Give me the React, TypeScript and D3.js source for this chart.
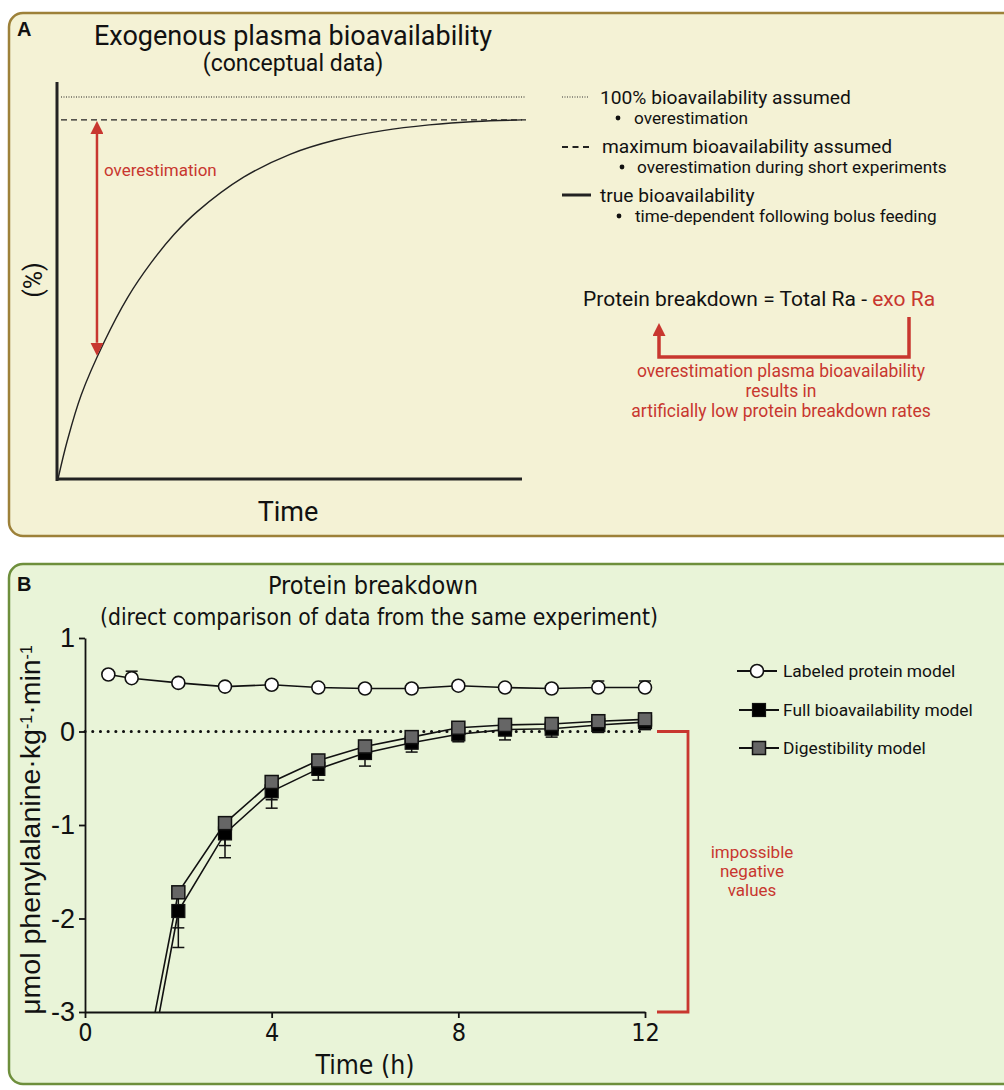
import React, { useEffect, useRef } from 'react';
import * as d3 from 'd3';

// ---- panel A (conceptual) ----
const conceptTime = [0, 2, 5, 10, 15, 20, 25, 30, 40, 50, 60, 70, 80, 90, 100];
const conceptTrue = [0, 10, 22, 36, 47.5, 56.5, 64, 70, 79, 85, 88.8, 91.2, 92.7, 93.6, 94];
const fullAssumed = 100;
const maxAssumed = 94;
const arrowTime = 8.4;
const arrowLow = 32;

// ---- panel B (protein breakdown) ----
const labeledTime = [0.5, 1, 2, 3, 4, 5, 6, 7, 8, 9, 10, 11, 12];
const labeledMean = [0.61, 0.57, 0.52, 0.48, 0.5, 0.47, 0.46, 0.46, 0.49, 0.47, 0.46, 0.47, 0.47];
const labeledSE = [0.02, 0.075, 0.03, 0.03, 0.03, 0.03, 0.03, 0.03, 0.03, 0.03, 0.03, 0.07, 0.07];

const modelTime = [1, 2, 3, 4, 5, 6, 7, 8, 9, 10, 11, 12];
const fullMean = [-4.6, -1.92, -1.09, -0.64, -0.4, -0.23, -0.12, -0.03, 0.02, 0.03, 0.07, 0.1];
const fullSE = [0.5, 0.39, 0.26, 0.18, 0.12, 0.14, 0.1, 0.08, 0.11, 0.09, 0.08, 0.08];
const digestMean = [-4.3, -1.72, -0.98, -0.54, -0.31, -0.16, -0.06, 0.04, 0.07, 0.08, 0.11, 0.13];
const digestSE = [0.5, 0.38, 0.24, 0.19, 0.1, 0.13, 0.08, 0.07, 0.08, 0.07, 0.06, 0.06];

const yTicksB = [1, 0, -1, -2, -3];
const xTicksB = [0, 4, 8, 12];

const RED = '#c8372f';
const ROBOTO = 'Roboto, "Noto Sans", sans-serif';
const NARROW = '"Liberation Sans Narrow", "DejaVu Sans Condensed", "Arial Narrow", sans-serif';
const ARIAL = '"Liberation Sans", Arial, sans-serif';

export default function App() {
  const xAxisRef = useRef<SVGGElement>(null);
  const yAxisRef = useRef<SVGGElement>(null);

  // panel A scales
  const xA = d3.scaleLinear().domain([0, 100]).range([58, 522]);
  const yA = d3.scaleLinear().domain([0, 100]).range([479, 97]);
  const curveA = d3.line<number>()
    .x((d, i) => xA(conceptTime[i]))
    .y(d => yA(d))
    .curve(d3.curveCatmullRom.alpha(0.5));

  // panel B scales
  const xB = d3.scaleLinear().domain([0, 12]).range([85, 645]);
  const yB = d3.scaleLinear().domain([-3, 1]).range([1012, 638]);
  const lineB = (times: number[]) => d3.line<number>()
    .x((d, i) => xB(times[i]))
    .y(d => yB(d));

  useEffect(() => {
    const gx = d3.select(xAxisRef.current);
    gx.call(d3.axisBottom(xB).tickValues(xTicksB).tickSize(6).tickSizeOuter(0).tickPadding(5).tickFormat(d => String(d)));
    gx.selectAll('path, line').attr('stroke', '#111').attr('stroke-width', 1.8);
    gx.selectAll('text').attr('font-family', NARROW).attr('font-size', 25).attr('fill', '#111');

    const gy = d3.select(yAxisRef.current);
    gy.call(d3.axisLeft(yB).tickValues(yTicksB).tickSize(6).tickSizeOuter(0).tickPadding(4).tickFormat(d => String(d)));
    gy.selectAll('path, line').attr('stroke', '#111').attr('stroke-width', 1.8);
    gy.selectAll('text').attr('font-family', ARIAL).attr('font-size', 27).attr('fill', '#111');
  }, []);

  const errBar = (x: number, y0: number, y1: number, key: string) => (
    <g key={key} stroke="#111" strokeWidth={1.5}>
      <line x1={x} x2={x} y1={y0} y2={y1} />
      <line x1={x - 6} x2={x + 6} y1={y1} y2={y1} />
    </g>
  );

  return (
    <svg width={1004} height={1090} style={{ position: 'absolute', left: 0, top: 0 }}>
      <defs>
        <marker id="redHead" viewBox="0 0 10 10" refX={0} refY={5} markerWidth={13} markerHeight={13}
          markerUnits="userSpaceOnUse" orient="auto-start-reverse">
          <path d="M0,0 L10,5 L0,10 z" fill={RED} />
        </marker>
        <clipPath id="plotB">
          <rect x={85} y={600} width={575} height={412} />
        </clipPath>
      </defs>

      {/* ---------- Panel A ---------- */}
      <rect x={9} y={13} width={1010} height={523} rx={14} fill="#f4f2d5" stroke="#9d8139" strokeWidth={2.5} />
      <text x={17} y={36} fontFamily={ARIAL} fontWeight="bold" fontSize={20} fill="#111">A</text>
      <text x={293} y={45} textAnchor="middle" fontFamily={ROBOTO} fontSize={27} fill="#111">Exogenous plasma bioavailability</text>
      <text x={293} y={71} textAnchor="middle" fontFamily={ROBOTO} fontSize={23} fill="#111">(conceptual data)</text>

      <line x1={xA(0) + 3} x2={xA(100) + 4} y1={yA(fullAssumed)} y2={yA(fullAssumed)} stroke="#222" strokeWidth={1.1} strokeDasharray="1 1.5" />
      <line x1={xA(0) + 3} x2={xA(100) + 4} y1={yA(maxAssumed)} y2={yA(maxAssumed)} stroke="#222" strokeWidth={1.3} strokeDasharray="6 4" />
      <path d={curveA(conceptTrue) || ''} fill="none" stroke="#222" strokeWidth={1.4} />
      <line x1={xA(0) - 1} x2={xA(0) - 1} y1={82} y2={481} stroke="#222" strokeWidth={3} />
      <line x1={xA(0) - 2} x2={xA(100)} y1={yA(0)} y2={yA(0)} stroke="#222" strokeWidth={3} />

      <line x1={xA(arrowTime)} x2={xA(arrowTime)} y1={yA(maxAssumed) + 14} y2={yA(arrowLow) - 14}
        stroke={RED} strokeWidth={2.5} markerStart="url(#redHead)" markerEnd="url(#redHead)" />
      <text x={104} y={176} fontFamily={ROBOTO} fontSize={17} fill={RED}>overestimation</text>

      <text transform="translate(42,280) rotate(-90)" textAnchor="middle" fontFamily={ROBOTO} fontSize={25} fill="#111">(%)</text>
      <text x={288} y={521} textAnchor="middle" fontFamily={ROBOTO} fontSize={27} fill="#111">Time</text>

      {/* legend A */}
      <g fontFamily={ROBOTO} fill="#111">
        <line x1={562} x2={588} y1={97} y2={97} stroke="#333" strokeWidth={1} strokeDasharray="1 1.5" />
        <text x={600} y={104} fontSize={19.2}>100% bioavailability assumed</text>
        <circle cx={618} cy={118} r={2.4} />
        <text x={634} y={124} fontSize={17.2}>overestimation</text>

        <line x1={562} x2={591} y1={147} y2={147} stroke="#222" strokeWidth={2} strokeDasharray="6 4.5" />
        <text x={602} y={153} fontSize={19.2}>maximum bioavailability assumed</text>
        <circle cx={622} cy={167} r={2.4} />
        <text x={637} y={173} fontSize={17.2}>overestimation during short experiments</text>

        <line x1={562} x2={591} y1={195} y2={195} stroke="#222" strokeWidth={3} />
        <text x={600} y={202} fontSize={19.2}>true bioavailability</text>
        <circle cx={619} cy={216} r={2.4} />
        <text x={635} y={222} fontSize={17.2}>time-dependent following bolus feeding</text>
      </g>

      <text x={583} y={306} fontFamily={ROBOTO} fontSize={21} fill="#111">
        Protein breakdown = Total Ra - <tspan fill={RED}>exo Ra</tspan>
      </text>
      <polyline points="909,317 909,357 659,357 659,336" fill="none" stroke={RED} strokeWidth={3.5} markerEnd="url(#redHead)" />
      <g fontFamily={ROBOTO} fontSize={17.5} fill={RED} textAnchor="middle">
        <text x={781} y={377}>overestimation plasma bioavailability</text>
        <text x={781} y={397}>results in</text>
        <text x={781} y={417}>artificially low protein breakdown rates</text>
      </g>

      {/* ---------- Panel B ---------- */}
      <rect x={9} y={564} width={1010} height={520} rx={14} fill="#e9f4d8" stroke="#6e8f3c" strokeWidth={2.5} />
      <text x={17} y={591} fontFamily={ARIAL} fontWeight="bold" fontSize={20} fill="#111">B</text>
      <text x={373} y={594} textAnchor="middle" fontFamily={NARROW} fontSize={25} fill="#111"
        textLength={210} lengthAdjust="spacingAndGlyphs">Protein breakdown</text>
      <text x={379} y={625} textAnchor="middle" fontFamily={NARROW} fontSize={23} fill="#111"
        textLength={558} lengthAdjust="spacingAndGlyphs">(direct comparison of data from the same experiment)</text>

      <line x1={xB(0)} x2={xB(12)} y1={yB(0)} y2={yB(0)} stroke="#111" strokeWidth={3}
        strokeDasharray="0.1 7.6" strokeLinecap="round" />

      <g clipPath="url(#plotB)">
        <path d={lineB(labeledTime)(labeledMean) || ''} fill="none" stroke="#111" strokeWidth={1.6} />
        <path d={lineB(modelTime)(fullMean) || ''} fill="none" stroke="#111" strokeWidth={1.6} />
        <path d={lineB(modelTime)(digestMean) || ''} fill="none" stroke="#111" strokeWidth={1.6} />

        {labeledTime.map((t, i) => errBar(xB(t), yB(labeledMean[i]), yB(labeledMean[i] + labeledSE[i]), 'le' + i))}
        {modelTime.map((t, i) => errBar(xB(t), yB(fullMean[i]), yB(fullMean[i] - fullSE[i]), 'fe' + i))}
        {modelTime.map((t, i) => errBar(xB(t), yB(digestMean[i]), yB(digestMean[i] - digestSE[i]), 'de' + i))}

        {modelTime.map((t, i) => (
          <rect key={'fm' + i} x={xB(t) - 6.5} y={yB(fullMean[i]) - 6.5} width={13} height={13}
            fill="#000" stroke="#111" strokeWidth={1.2} />
        ))}
        {modelTime.map((t, i) => (
          <rect key={'dm' + i} x={xB(t) - 6.5} y={yB(digestMean[i]) - 6.5} width={13} height={13}
            fill="#666" stroke="#111" strokeWidth={1.5} />
        ))}
        {labeledTime.map((t, i) => (
          <circle key={'lm' + i} cx={xB(t)} cy={yB(labeledMean[i])} r={6.5} fill="#fff" stroke="#111" strokeWidth={1.6} />
        ))}
      </g>

      <g ref={xAxisRef} transform={`translate(0,${yB(-3)})`} />
      <g ref={yAxisRef} transform={`translate(${xB(0)},0)`} />

      <text x={365} y={1074} textAnchor="middle" fontFamily={NARROW} fontSize={27} fill="#111"
        textLength={99} lengthAdjust="spacingAndGlyphs">Time (h)</text>
      <text transform="translate(40,830) rotate(-90)" textAnchor="middle" fontFamily={ARIAL} fontSize={28.5} fill="#111">
        μmol phenylalanine·kg<tspan baselineShift="super" fontSize={16}>-1</tspan>·min<tspan baselineShift="super" fontSize={16}>-1</tspan>
      </text>

      {/* red bracket */}
      <polyline points={`657,${yB(0)} 688,${yB(0)} 688,${yB(-3)} 657,${yB(-3)}`} fill="none" stroke={RED} strokeWidth={2.8} />
      <g fontFamily={ROBOTO} fontSize={17} fill={RED} textAnchor="middle">
        <text x={752} y={858}>impossible</text>
        <text x={752} y={877}>negative</text>
        <text x={752} y={896}>values</text>
      </g>

      {/* legend B */}
      <g fontFamily={ROBOTO} fontSize={17.4} fill="#111">
        <line x1={737} x2={777} y1={671} y2={671} stroke="#111" strokeWidth={1.8} />
        <circle cx={757} cy={671} r={6.5} fill="#fff" stroke="#111" strokeWidth={1.6} />
        <text x={783} y={677}>Labeled protein model</text>

        <line x1={739} x2={779} y1={710} y2={710} stroke="#111" strokeWidth={1.8} />
        <rect x={752.5} y={703.5} width={13} height={13} fill="#000" stroke="#111" strokeWidth={1.2} />
        <text x={783} y={716}>Full bioavailability model</text>

        <line x1={739} x2={779} y1={748} y2={748} stroke="#111" strokeWidth={1.8} />
        <rect x={752.5} y={741.5} width={13} height={13} fill="#666" stroke="#111" strokeWidth={1.5} />
        <text x={783} y={754}>Digestibility model</text>
      </g>
    </svg>
  );
}
